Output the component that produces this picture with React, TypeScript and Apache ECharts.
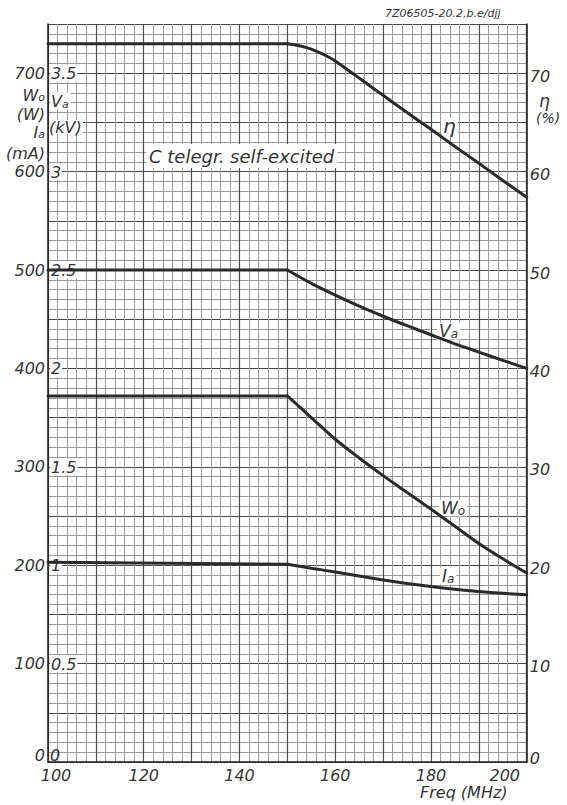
import React, { useEffect, useRef } from "react";
import * as echarts from "echarts";

// ---- data ----
const etaFreqMHz = [100, 150, 152, 154, 156, 158, 160, 163, 166, 170, 175, 180, 185, 190, 195, 200];
const etaPct = [73.0, 73.0, 72.85, 72.6, 72.25, 71.8, 71.25, 70.2, 69.15, 67.75, 66.0, 64.3, 62.55, 60.85, 59.1, 57.4];

const freqMHz = [100, 150, 155, 160, 165, 170, 175, 180, 185, 190, 195, 200];
const vaKV = [2.5, 2.5, 2.432, 2.372, 2.316, 2.265, 2.217, 2.171, 2.125, 2.083, 2.041, 2.0];
const woW = [372, 372, 350, 328, 309, 291, 274, 257, 239.5, 222, 206.5, 192];
const iaMA = [203, 201, 197, 193, 189, 185, 181.5, 178.3, 175.6, 173.3, 171.4, 170];

const xTicksLabelled = [100, 120, 140, 160, 180, 200];
const leftTickLabels = [0, 100, 200, 300, 400, 500, 600, 700];
const kvTickLabels = [0, 0.5, 1, 1.5, 2, 2.5, 3, 3.5];
const etaTickLabels = [0, 10, 20, 30, 40, 50, 60, 70];

const INK = "#333";
const CURVE = "#2a2a2a";
const FONT = "DejaVu Sans";

const base = { fontFamily: FONT, fontStyle: "italic", color: INK, fontSize: 16, lineHeight: 14 };

function txt(x: number, y: number, text: string, extra: any = {}, z = 5) {
  const fs = extra.fontSize || 16;
  return {
    type: "text",
    x,
    y,
    z,
    style: {
      text,
      fill: INK,
      fontFamily: FONT,
      fontStyle: "italic",
      fontSize: fs,
      lineHeight: fs - 3,
      align: "left",
      verticalAlign: "middle",
      ...extra,
    },
  };
}

const subRich = (size = 16) => ({
  m: { fontFamily: FONT, fontStyle: "italic", fontSize: size, lineHeight: size, fill: INK, color: INK },
  s: {
    fontFamily: FONT,
    fontStyle: "italic",
    fontSize: Math.round(size * 0.68),
    lineHeight: 6,
    verticalAlign: "bottom",
    fill: INK,
    color: INK,
  },
});

export default function App() {
  const ref = useRef<HTMLDivElement>(null);
  useEffect(() => {
    if (!ref.current) return;
    const chart = echarts.init(ref.current, undefined, { renderer: "svg" });

    const zip = (xs: number[], ys: number[]) => xs.map((x, i) => [x, ys[i]]);
    const lineSeries = (name: string, data: number[][], yAxisIndex: number, smooth: number | boolean) => ({
      name,
      type: "line",
      yAxisIndex,
      data,
      symbol: "none",
      showSymbol: false,
      smooth,
      z: 3,
      lineStyle: { color: CURVE, width: 3, cap: "round", join: "round" },
    });
    // split each curve at its knee: straight flat part + smooth falling part
    const split = (name: string, xs: number[], ys: number[], knee: number, axis: number) => {
      const pts = zip(xs, ys);
      return [
        lineSeries(name + "-flat", pts.slice(0, knee + 1), axis, false),
        lineSeries(name, pts.slice(knee), axis, 0.3),
      ];
    };

    const option: any = {
      animation: false,
      backgroundColor: "#fff",
      grid: { left: 48, right: 32, top: 24, bottom: 43, show: false },
      xAxis: {
        type: "value",
        min: 100,
        max: 200,
        interval: 10,
        axisLine: { show: true, lineStyle: { color: "#222", width: 1.5 } },
        axisTick: { show: false },
        axisLabel: {
          ...base,
          margin: 6,
          formatter: (v: number) => {
            if (!xTicksLabelled.includes(v)) return "";
            if (v === 100) return "{l|100}";
            if (v === 200) return "{r|200}";
            return String(v);
          },
          rich: {
            l: { ...base, padding: [0, 0, 0, 16] },
            r: { ...base, padding: [0, 44, 0, 0] },
          },
        },
        splitLine: { show: true, lineStyle: { color: "#4a4a4a", width: 1.2 } },
        minorTick: { show: false, splitNumber: 5 },
        minorSplitLine: { show: true, lineStyle: { color: "#9a9a9a", width: 1 } },
      },
      yAxis: [
        {
          type: "value",
          position: "left",
          min: 0,
          max: 750,
          interval: 50,
          axisLine: { show: true, lineStyle: { color: "#222", width: 1.5 } },
          axisTick: { show: false },
          axisLabel: {
            ...base,
            margin: 3,
            formatter: (v: number) => {
              if (!leftTickLabels.includes(v)) return "";
              return v === 0 ? "{z|0}" : String(v);
            },
            rich: { z: { ...base, padding: [0, 0, 14, 0] } },
          },
          splitLine: { show: true, lineStyle: { color: "#4a4a4a", width: 1.2 } },
          minorTick: { show: false, splitNumber: 5 },
          minorSplitLine: { show: true, lineStyle: { color: "#9a9a9a", width: 1 } },
        },
        {
          type: "value",
          position: "left",
          min: 0,
          max: 3.75,
          interval: 0.25,
          z: 1,
          axisLine: { show: false },
          axisTick: { show: false },
          splitLine: { show: false },
          axisLabel: {
            ...base,
            inside: true,
            margin: 2,
            formatter: (v: number) => {
              const hit = kvTickLabels.find((k) => Math.abs(k - v) < 1e-9);
              if (hit === undefined) return "";
              return hit === 0 ? "{z|0}" : "{k|" + String(hit) + "}";
            },
            rich: {
              z: { ...base, padding: [0, 0, 14, 0] },
              k: { ...base, backgroundColor: "#fff", padding: [1, 1, 0, 1] },
            },
          },
        },
        {
          type: "value",
          position: "right",
          min: 0,
          max: 75,
          interval: 5,
          axisLine: { show: true, lineStyle: { color: "#222", width: 1.5 } },
          axisTick: { show: false },
          splitLine: { show: false },
          axisLabel: {
            ...base,
            margin: 3,
            formatter: (v: number) => {
              if (!etaTickLabels.includes(v)) return "";
              return v === 0 ? "{z|0}" : "{n|" + String(v) + "}";
            },
            rich: {
              z: { ...base, padding: [0, 0, 8, 0] },
              n: { ...base, padding: [6, 0, 0, 0] },
            },
          },
        },
      ],
      series: [
        ...split("eta", etaFreqMHz, etaPct, 1, 2),
        ...split("Va", freqMHz, vaKV, 1, 1),
        ...split("Wo", freqMHz, woW, 1, 0),
        ...split("Ia", freqMHz, iaMA, 1, 0),
      ],
      graphic: [
        txt(385, 13, "7Z06505-20.2.b.e/djj", { fontSize: 11 }),
        txt(146, 156, "C telegr. self-excited", { fontSize: 18, backgroundColor: "#fff", padding: [5, 3, 4, 3] }, 1),
        // left outer axis title
        txt(45, 95, "{m|W}{s|o}", { align: "right", rich: subRich(16) }),
        txt(45, 114, "(W)", { align: "right" }),
        txt(45, 132, "{m|I}{s|a}", { align: "right", rich: subRich(16) }),
        txt(45, 153, "(mA)", { align: "right" }),
        // inner kV title
        txt(50, 101, "{m|V}{s|a}", { rich: subRich(16), backgroundColor: "#fff", padding: [1, 2, 0, 1] }, 1),
        txt(49, 127, "(kV)", { backgroundColor: "#fff", padding: [1, 1, 0, 0] }, 1),
        // right title
        txt(539, 101, "η", { fontSize: 17 }),
        txt(536, 118, "(%)", { fontSize: 14 }),
        // curve labels
        txt(441, 126, "η", { fontSize: 20, backgroundColor: "#fff", padding: [0, 2, 0, 2] }, 1),
        txt(437, 331, "{m|V}{s|a}", { rich: subRich(17), backgroundColor: "#fff", padding: [0, 2, 0, 2] }, 1),
        txt(439, 508, "{m|W}{s|o}", { rich: subRich(17), backgroundColor: "#fff", padding: [0, 2, 0, 2] }, 1),
        txt(440, 576, "{m|I}{s|a}", { rich: subRich(17), backgroundColor: "#fff", padding: [0, 2, 0, 2] }, 1),
        // x title
        txt(420, 792, "Freq (MHz)", { fontSize: 16 }),
      ],
    };
    chart.setOption(option);
    return () => chart.dispose();
  }, []);

  return (
    <div
      ref={ref}
      style={{ position: "absolute", left: 0, top: 0, width: 567, height: 805, background: "#fff" }}
    />
  );
}
